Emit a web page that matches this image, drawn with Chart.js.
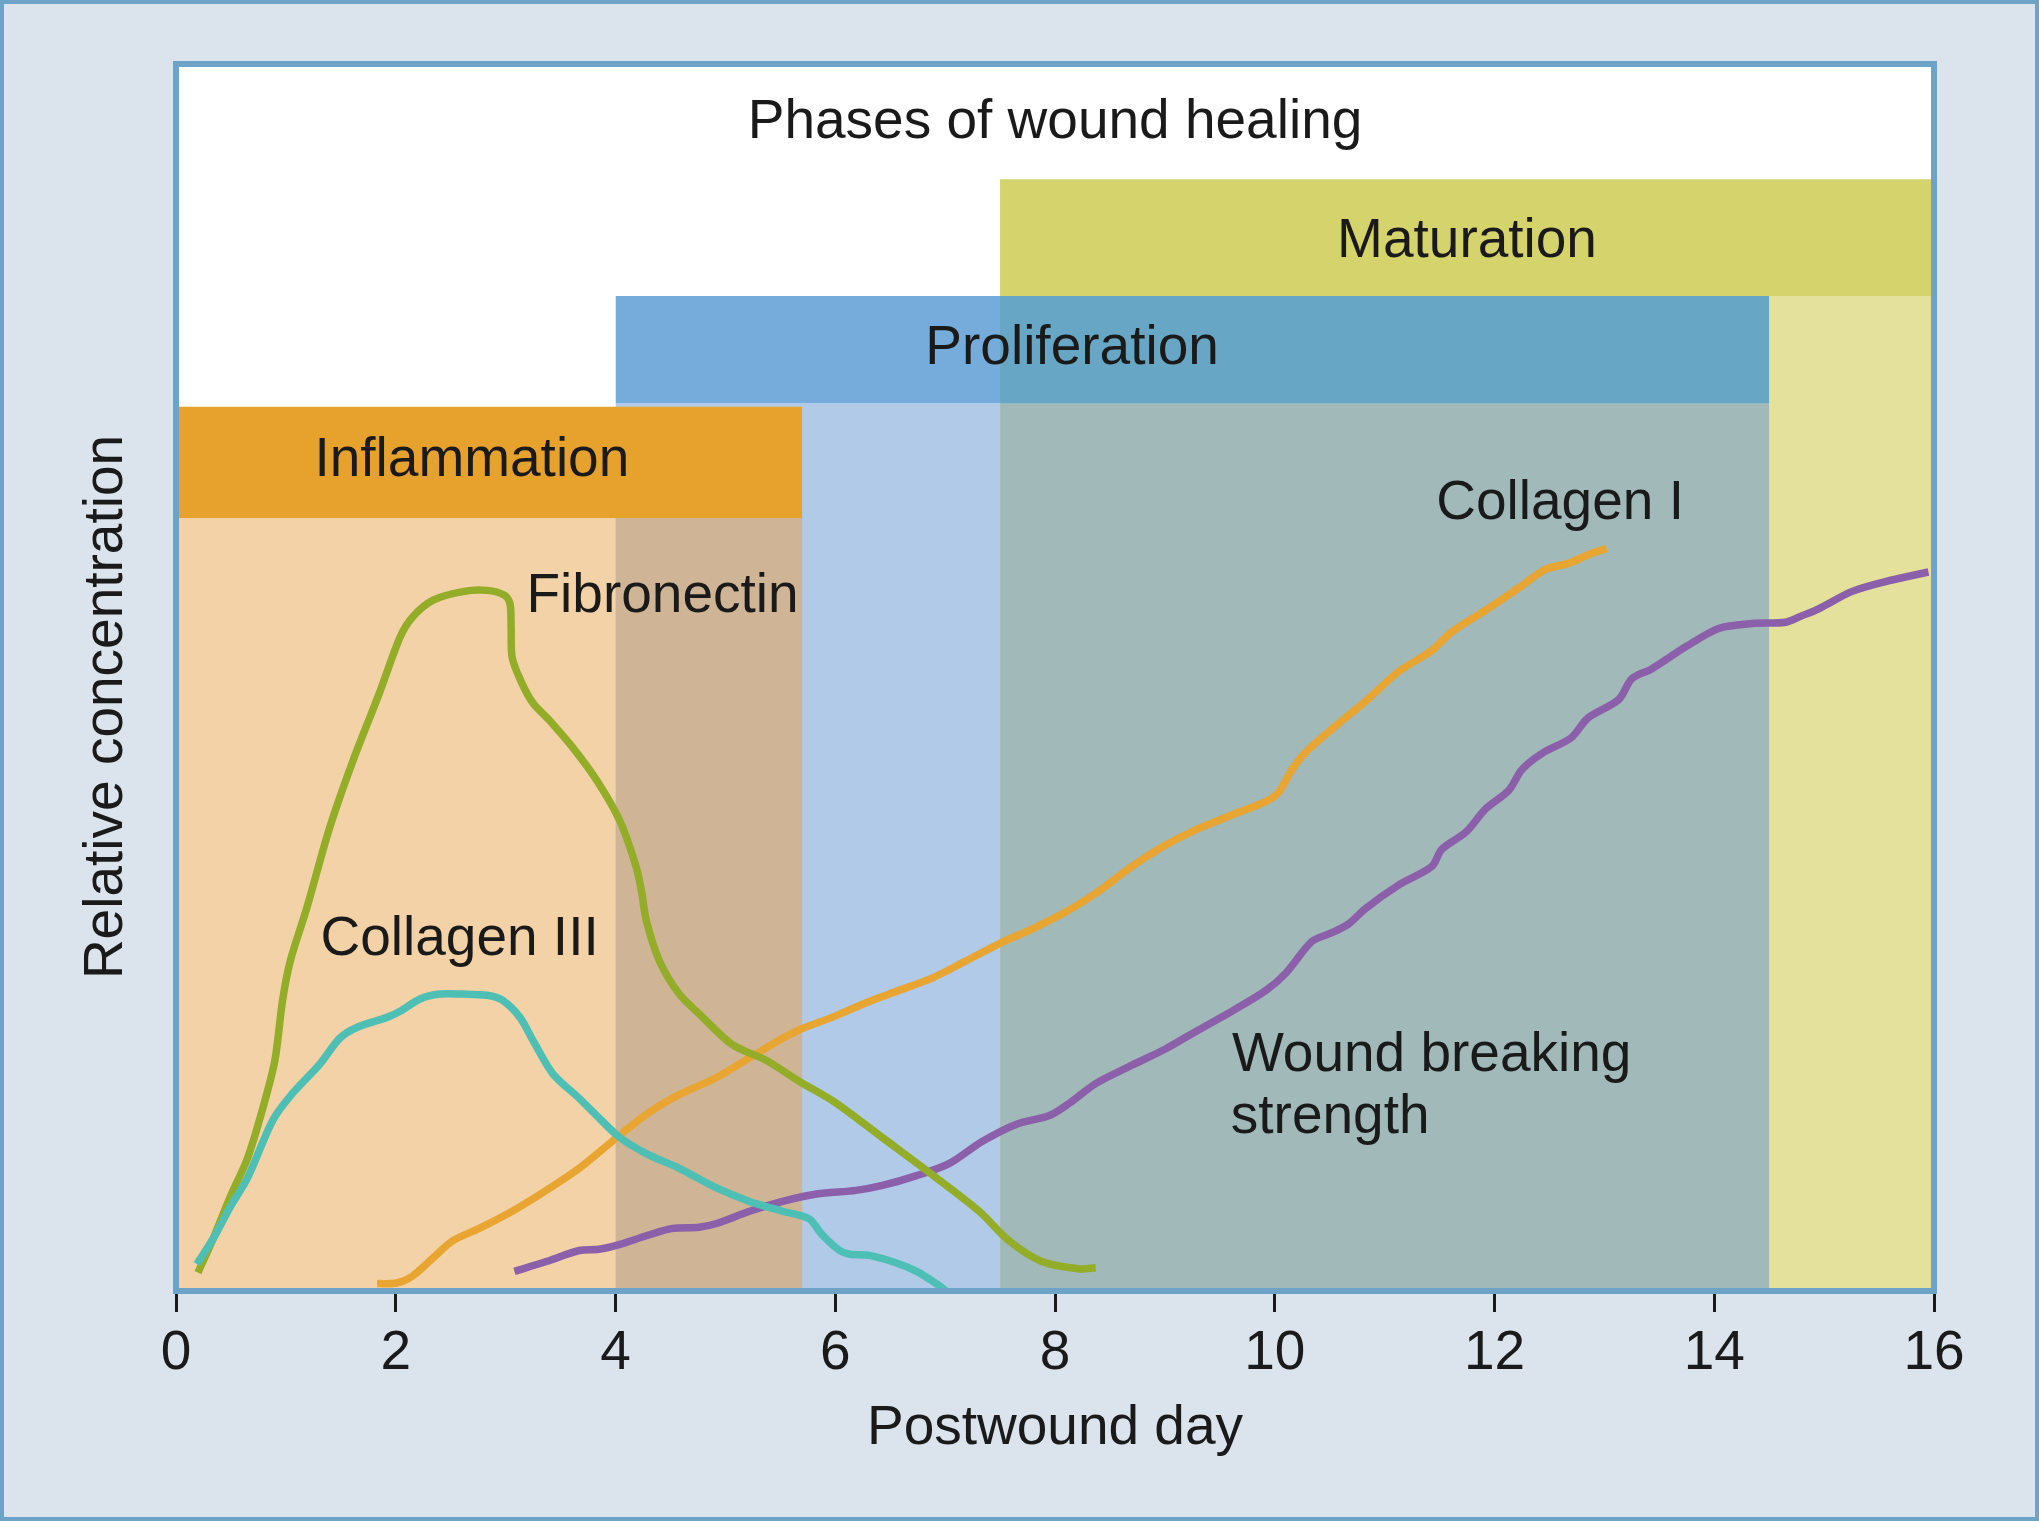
<!DOCTYPE html>
<html>
<head>
<meta charset="utf-8">
<script src="https://cdn.jsdelivr.net/npm/chart.js@4"></script>
<style>
  html, body { margin: 0; padding: 0; background: #dbe3ec; overflow: hidden; }
  canvas { display: block; }
</style>
</head>
<body>
<canvas id="c" width="2039" height="1521"></canvas>
<script>
// ---------------- DATA ----------------
const xTicks = [0, 2, 4, 6, 8, 10, 12, 14, 16];

const phaseNames = ['Inflammation', 'Proliferation', 'Maturation'];
const phaseStart = [0, 4, 7.5];
const phaseEnd   = [5.7, 14.5, 16];

const fibronectinDays = [0.2,0.34,0.49,0.65,0.79,0.9,0.97,1.04,1.19,1.4,1.61,1.85,2.04,2.15,2.34,2.61,2.83,2.99,3.04,3.05,3.06,3.15,3.25,3.4,3.61,3.83,4.04,4.19,4.24,4.28,4.4,4.58,4.76,5.06,5.37,5.67,6.01,6.43,6.88,7.31,7.58,7.88,8.22,8.37];
const fibronectinValues = [1.5,4.3,7.6,10.8,14.9,18.8,23.7,26.9,31.2,37.8,43.2,48.7,53.3,54.9,56.3,57.0,57.1,56.7,56.0,54.1,51.6,49.5,47.9,46.5,44.3,41.6,38.3,34.5,32.4,30.2,26.9,24.2,22.6,20.1,18.8,17.1,15.3,12.5,9.5,6.5,4.1,2.4,1.8,1.9];

const collagen3Days = [0.19,0.34,0.49,0.65,0.88,1.06,1.31,1.49,1.65,1.92,2.04,2.22,2.4,2.61,2.83,2.97,3.13,3.25,3.43,3.67,3.85,4.04,4.28,4.58,4.92,5.22,5.52,5.76,5.88,6.04,6.13,6.31,6.55,6.74,6.92,7.01];
const collagen3Values = [2.2,4.3,6.8,9.2,13.9,16.1,18.5,20.6,21.5,22.3,22.8,23.8,24.2,24.2,24.1,23.7,22.3,20.4,17.7,15.7,14.1,12.5,11.2,10.0,8.4,7.3,6.5,5.9,4.6,3.3,3.0,2.9,2.3,1.6,0.6,0];

const collagen1Days = [1.83,2.01,2.15,2.34,2.52,2.76,3.06,3.37,3.67,3.97,4.28,4.58,4.92,5.22,5.52,5.7,5.97,6.28,6.58,6.88,7.19,7.49,7.79,8.1,8.4,8.7,9.0,9.31,9.61,9.92,10.04,10.15,10.28,10.52,10.83,11.13,11.43,11.61,11.92,12.22,12.46,12.67,12.88,13.02];
const collagen1Values = [0.6,0.65,1.2,2.7,4.1,5.1,6.5,8.2,10.0,12.2,14.4,16.0,17.4,19.0,20.6,21.4,22.3,23.5,24.5,25.5,26.9,28.3,29.5,30.9,32.6,34.6,36.3,37.7,38.8,39.9,40.7,42.4,43.9,45.8,48.1,50.5,52.2,53.7,55.5,57.3,58.8,59.3,60.1,60.5];

const woundDays = [3.08,3.37,3.67,3.85,4.04,4.28,4.52,4.76,4.92,5.22,5.52,5.83,6.19,6.43,6.74,7.04,7.34,7.65,7.95,8.13,8.37,8.7,9.0,9.31,9.61,9.92,10.1,10.34,10.52,10.67,10.83,11.13,11.43,11.52,11.74,11.92,12.13,12.25,12.43,12.7,12.85,13.13,13.25,13.43,13.74,14.04,14.34,14.65,14.79,14.95,15.25,15.55,15.95];
const woundValues = [1.6,2.4,3.3,3.4,3.8,4.5,5.1,5.2,5.5,6.5,7.3,7.9,8.2,8.6,9.4,10.4,12.2,13.6,14.3,15.3,16.9,18.4,19.7,21.3,22.8,24.5,25.9,28.5,29.2,29.9,31.2,33.1,34.6,36.0,37.4,39.3,40.8,42.5,43.8,45.1,46.7,48.2,49.9,50.7,52.5,54.0,54.4,54.5,55.0,55.6,57.0,57.8,58.6];

// ---------------- STYLE ----------------
const FONT = '"Liberation Sans", Arial, Helvetica, sans-serif';
const TEXT = '#1a1a1a';
// vertical extent of the phase header bands (relative-scale units, layout only)
const bandLevels = [[63.0, 72.06], [72.35, 81.1], [81.1, 90.6]];
const bandColors  = ['#e7a22d', '#76acdc', '#d5d36b'];
const lightColors = ['#f2d2a6', '#b0cae8', '#e4e19c'];
const overlapLightColors = ['#cfb596', '#a1b9b8'];
const overlapBandColor = '#68a6c5';

function zip(xs, ys) { return xs.map((x, i) => ({ x, y: ys[i] })); }

let ord = 100;
function rect(x0, x1, y0, y1, color) {
  return {
    data: [{ x: x0, y: y1 }, { x: x1, y: y1 }],
    fill: { value: y0 },
    backgroundColor: color,
    borderColor: 'rgba(0,0,0,0)',
    borderWidth: 1,
    pointRadius: 0,
    tension: 0,
    order: ord--
  };
}

const datasets = [];
// light regions below each band
for (let i = 0; i < 3; i++) datasets.push(rect(phaseStart[i], phaseEnd[i], 0, bandLevels[i][0], lightColors[i]));
// overlaps of light regions
for (let i = 0; i < 2; i++) {
  const a = Math.max(phaseStart[i], phaseStart[i + 1]);
  const b = Math.min(phaseEnd[i], phaseEnd[i + 1]);
  datasets.push(rect(a, b, 0, bandLevels[i][0], overlapLightColors[i]));
}
// bands
for (let i = 0; i < 3; i++) datasets.push(rect(phaseStart[i], phaseEnd[i], bandLevels[i][0], bandLevels[i][1], bandColors[i]));
// proliferation band over maturation light
datasets.push(rect(Math.max(phaseStart[1], phaseStart[2]), Math.min(phaseEnd[1], phaseEnd[2]), bandLevels[1][0], bandLevels[1][1], overlapBandColor));

function curve(label, xs, ys, color, order) {
  return {
    label, data: zip(xs, ys), borderColor: color, borderWidth: 7.5,
    fill: false, pointRadius: 0, tension: 0.3, order,
    borderCapStyle: 'butt', borderJoinStyle: 'round'
  };
}
datasets.push(curve('Wound breaking strength', woundDays, woundValues, '#8c5fab', 4));
datasets.push(curve('Collagen I', collagen1Days, collagen1Values, '#e9a531', 3));
datasets.push(curve('Fibronectin', fibronectinDays, fibronectinValues, '#93ad29', 2));
datasets.push(curve('Collagen III', collagen3Days, collagen3Values, '#4dbfb5', 1));

const textItems = [
  { text: 'Phases of wound healing', align: 'center', day: 8, value: 94.0 },
  { text: phaseNames[2], align: 'center', day: (phaseStart[2] + phaseEnd[2]) / 2, value: 84.3 },
  { text: phaseNames[1], align: 'left', day: 6.82, value: 75.55 },
  { text: phaseNames[0], align: 'left', day: 1.26, value: 66.4 },
  { text: 'Fibronectin', align: 'left', day: 3.19, value: 55.3 },
  { text: 'Collagen III', align: 'left', day: 1.315, value: 27.4 },
  { text: 'Collagen I', align: 'left', day: 11.47, value: 62.9 },
  { text: 'Wound breaking', align: 'left', day: 9.61, value: 17.9 },
  { text: 'strength', align: 'left', day: 9.6, value: 12.9 }
];

const decor = {
  id: 'decor',
  beforeDraw(chart) {
    const { ctx, chartArea: a, width, height } = chart;
    ctx.save();
    ctx.fillStyle = '#dbe3ec';
    ctx.fillRect(0, 0, width, height);
    ctx.strokeStyle = '#6ea3c8';
    ctx.lineWidth = 4;
    ctx.strokeRect(2, 2, width - 4, height - 4);
    ctx.fillStyle = '#ffffff';
    ctx.fillRect(a.left, a.top, a.right - a.left, a.bottom - a.top);
    ctx.restore();
  },
  afterDatasetsDraw(chart) {
    const { ctx, chartArea: a, scales: { x, y } } = chart;
    ctx.save();
    ctx.strokeStyle = '#6ea3c8';
    ctx.lineWidth = 6;
    ctx.strokeRect(a.left, a.top, a.right - a.left, a.bottom - a.top);
    ctx.fillStyle = TEXT;
    ctx.font = '55px ' + FONT;
    ctx.textBaseline = 'alphabetic';
    for (const t of textItems) {
      ctx.textAlign = t.align;
      ctx.fillText(t.text, x.getPixelForValue(t.day), y.getPixelForValue(t.value));
    }
    // y-axis title
    ctx.translate(a.left - 54, 707);
    ctx.rotate(-Math.PI / 2);
    ctx.textAlign = 'center';
    ctx.fillText('Relative concentration', 0, 0);
    ctx.restore();
  }
};

new Chart(document.getElementById('c'), {
  type: 'line',
  data: { datasets },
  options: {
    responsive: false,
    animation: false,
    events: [],
    layout: { padding: { left: 176, right: 105, top: 64, bottom: 59 } },
    plugins: { legend: { display: false }, tooltip: { enabled: false }, title: { display: false } },
    scales: {
      x: {
        type: 'linear', min: 0, max: 16,
        afterBuildTicks(scale) { scale.ticks = xTicks.map(v => ({ value: v })); },
        ticks: { font: { size: 55, family: FONT }, color: TEXT, padding: 9, maxRotation: 0, autoSkip: false },
        grid: { display: true, drawOnChartArea: false, drawTicks: true, tickLength: 21, tickWidth: 3, tickColor: TEXT },
        border: { display: false },
        title: { display: true, text: 'Postwound day', color: TEXT, font: { size: 55, family: FONT }, padding: { top: 0, bottom: 0 } }
      },
      y: { type: 'linear', min: 0, max: 100, display: false }
    }
  },
  plugins: [decor]
});
</script>
</body>
</html>
